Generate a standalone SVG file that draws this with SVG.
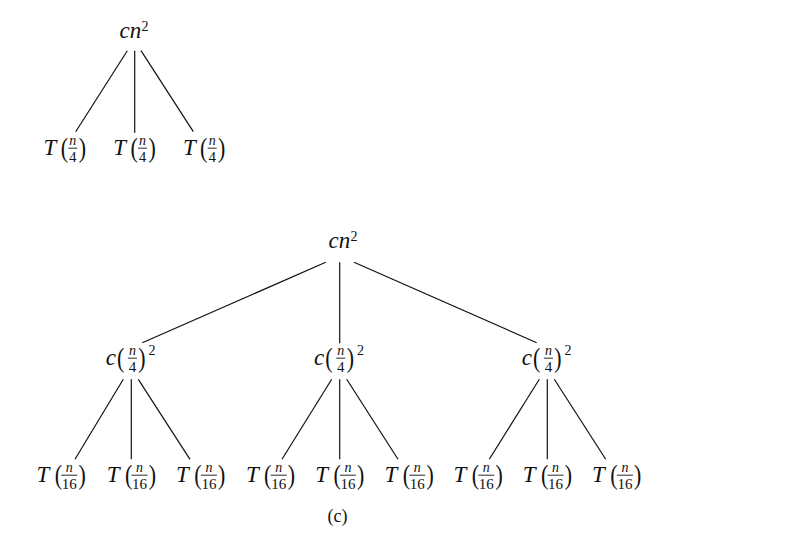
<svg xmlns="http://www.w3.org/2000/svg" width="808" height="546" viewBox="0 0 808 546">
<style>
text { font-family: "Liberation Serif", "DejaVu Serif", serif; fill: #111; }
.m { font-style: italic; font-size: 23px; }
.p { font-size: 22px; }
.si { font-style: italic; font-size: 14px; text-anchor: middle; }
.s { font-size: 15px; text-anchor: middle; }
.sup { font-size: 14px; }
.bar { stroke: #111; stroke-width: 0.9; }
.e line { stroke: #111; stroke-width: 1.2; }
.cap { font-size: 18px; text-anchor: middle; }
</style>
<rect width="808" height="546" fill="#fff"/>
<g id="connectors" class="e">
  <line x1="127.3" y1="50.7" x2="75.7" y2="131.7"/>
  <line x1="134.7" y1="50.7" x2="134.7" y2="132.7"/>
  <line x1="141" y1="50.7" x2="193.3" y2="131.7"/>
  <line x1="325.7" y1="262.3" x2="142.3" y2="342.7"/>
  <line x1="339.7" y1="262.3" x2="339.7" y2="343.3"/>
  <line x1="354" y1="262.3" x2="536.7" y2="342.7"/>
  <line x1="123.3" y1="379.3" x2="75" y2="459.3"/>
  <line x1="131.3" y1="379.3" x2="131.3" y2="459.3"/>
  <line x1="138.3" y1="379.3" x2="190" y2="459.3"/>
  <line x1="331.7" y1="379.3" x2="282" y2="459.3"/>
  <line x1="339.7" y1="379.3" x2="339.7" y2="459.3"/>
  <line x1="346.7" y1="379.3" x2="398" y2="459.3"/>
  <line x1="539.3" y1="379.3" x2="489.3" y2="459.3"/>
  <line x1="547.3" y1="379.3" x2="547.3" y2="459.3"/>
  <line x1="554.3" y1="379.3" x2="605.7" y2="459.3"/>
</g>
<g id="a-root">
  <text class="m" x="119.5" y="38">cn</text><text class="sup" x="141.5" y="31">2</text>
</g>
<g id="a-c1" transform="translate(65,155)">
  <text class="m" x="-21.5" y="0">T</text><text class="p" transform="translate(-4.3,2) scale(1,1.2)">(</text>
  <text class="si" x="7.8" y="-10">n</text><line class="bar" x1="3.3" y1="-6.8" x2="12.3" y2="-6.8"/><text class="s" x="7.8" y="7">4</text>
  <text class="p" transform="translate(13.7,2) scale(1,1.2)">)</text>
</g>
<g id="a-c2" transform="translate(134.7,155)">
  <text class="m" x="-21.5" y="0">T</text><text class="p" transform="translate(-4.3,2) scale(1,1.2)">(</text>
  <text class="si" x="7.8" y="-10">n</text><line class="bar" x1="3.3" y1="-6.8" x2="12.3" y2="-6.8"/><text class="s" x="7.8" y="7">4</text>
  <text class="p" transform="translate(13.7,2) scale(1,1.2)">)</text>
</g>
<g id="a-c3" transform="translate(204.4,155)">
  <text class="m" x="-21.5" y="0">T</text><text class="p" transform="translate(-4.3,2) scale(1,1.2)">(</text>
  <text class="si" x="7.8" y="-10">n</text><line class="bar" x1="3.3" y1="-6.8" x2="12.3" y2="-6.8"/><text class="s" x="7.8" y="7">4</text>
  <text class="p" transform="translate(13.7,2) scale(1,1.2)">)</text>
</g>
<g id="c-root">
  <text class="m" x="328.5" y="248">cn</text><text class="sup" x="350.5" y="241">2</text>
</g>
<g id="c-m1" transform="translate(131.3,365)">
  <text class="m" x="-25.6" y="0">c</text><text class="p" transform="translate(-14.4,2) scale(1,1.2)">(</text>
  <text class="si" x="1.1" y="-10">n</text><line class="bar" x1="-3.4" y1="-6.8" x2="5.6" y2="-6.8"/><text class="s" x="1.1" y="7">4</text>
  <text class="p" transform="translate(7,2) scale(1,1.2)">)</text><text class="sup" x="17.3" y="-10">2</text>
</g>
<g id="c-m2" transform="translate(339.7,365)">
  <text class="m" x="-25.6" y="0">c</text><text class="p" transform="translate(-14.4,2) scale(1,1.2)">(</text>
  <text class="si" x="1.1" y="-10">n</text><line class="bar" x1="-3.4" y1="-6.8" x2="5.6" y2="-6.8"/><text class="s" x="1.1" y="7">4</text>
  <text class="p" transform="translate(7,2) scale(1,1.2)">)</text><text class="sup" x="17.3" y="-10">2</text>
</g>
<g id="c-m3" transform="translate(547.3,365)">
  <text class="m" x="-25.6" y="0">c</text><text class="p" transform="translate(-14.4,2) scale(1,1.2)">(</text>
  <text class="si" x="1.1" y="-10">n</text><line class="bar" x1="-3.4" y1="-6.8" x2="5.6" y2="-6.8"/><text class="s" x="1.1" y="7">4</text>
  <text class="p" transform="translate(7,2) scale(1,1.2)">)</text><text class="sup" x="17.3" y="-10">2</text>
</g>
<g id="c-l1" transform="translate(61,482)">
  <text class="m" x="-24.5" y="0">T</text><text class="p" transform="translate(-6.3,2) scale(1,1.2)">(</text>
  <text class="si" x="8.3" y="-10">n</text><line class="bar" x1="0.3" y1="-6.8" x2="16.3" y2="-6.8"/><text class="s" x="8.3" y="7">16</text>
  <text class="p" transform="translate(17.4,2) scale(1,1.2)">)</text>
</g>
<g id="c-l2" transform="translate(131.3,482)">
  <text class="m" x="-24.5" y="0">T</text><text class="p" transform="translate(-6.3,2) scale(1,1.2)">(</text>
  <text class="si" x="8.3" y="-10">n</text><line class="bar" x1="0.3" y1="-6.8" x2="16.3" y2="-6.8"/><text class="s" x="8.3" y="7">16</text>
  <text class="p" transform="translate(17.4,2) scale(1,1.2)">)</text>
</g>
<g id="c-l3" transform="translate(200.6,482)">
  <text class="m" x="-24.5" y="0">T</text><text class="p" transform="translate(-6.3,2) scale(1,1.2)">(</text>
  <text class="si" x="8.3" y="-10">n</text><line class="bar" x1="0.3" y1="-6.8" x2="16.3" y2="-6.8"/><text class="s" x="8.3" y="7">16</text>
  <text class="p" transform="translate(17.4,2) scale(1,1.2)">)</text>
</g>
<g id="c-l4" transform="translate(270.4,482)">
  <text class="m" x="-24.5" y="0">T</text><text class="p" transform="translate(-6.3,2) scale(1,1.2)">(</text>
  <text class="si" x="8.3" y="-10">n</text><line class="bar" x1="0.3" y1="-6.8" x2="16.3" y2="-6.8"/><text class="s" x="8.3" y="7">16</text>
  <text class="p" transform="translate(17.4,2) scale(1,1.2)">)</text>
</g>
<g id="c-l5" transform="translate(339.7,482)">
  <text class="m" x="-24.5" y="0">T</text><text class="p" transform="translate(-6.3,2) scale(1,1.2)">(</text>
  <text class="si" x="8.3" y="-10">n</text><line class="bar" x1="0.3" y1="-6.8" x2="16.3" y2="-6.8"/><text class="s" x="8.3" y="7">16</text>
  <text class="p" transform="translate(17.4,2) scale(1,1.2)">)</text>
</g>
<g id="c-l6" transform="translate(409,482)">
  <text class="m" x="-24.5" y="0">T</text><text class="p" transform="translate(-6.3,2) scale(1,1.2)">(</text>
  <text class="si" x="8.3" y="-10">n</text><line class="bar" x1="0.3" y1="-6.8" x2="16.3" y2="-6.8"/><text class="s" x="8.3" y="7">16</text>
  <text class="p" transform="translate(17.4,2) scale(1,1.2)">)</text>
</g>
<g id="c-l7" transform="translate(478,482)">
  <text class="m" x="-24.5" y="0">T</text><text class="p" transform="translate(-6.3,2) scale(1,1.2)">(</text>
  <text class="si" x="8.3" y="-10">n</text><line class="bar" x1="0.3" y1="-6.8" x2="16.3" y2="-6.8"/><text class="s" x="8.3" y="7">16</text>
  <text class="p" transform="translate(17.4,2) scale(1,1.2)">)</text>
</g>
<g id="c-l8" transform="translate(547.3,482)">
  <text class="m" x="-24.5" y="0">T</text><text class="p" transform="translate(-6.3,2) scale(1,1.2)">(</text>
  <text class="si" x="8.3" y="-10">n</text><line class="bar" x1="0.3" y1="-6.8" x2="16.3" y2="-6.8"/><text class="s" x="8.3" y="7">16</text>
  <text class="p" transform="translate(17.4,2) scale(1,1.2)">)</text>
</g>
<g id="c-l9" transform="translate(616.6,482)">
  <text class="m" x="-24.5" y="0">T</text><text class="p" transform="translate(-6.3,2) scale(1,1.2)">(</text>
  <text class="si" x="8.3" y="-10">n</text><line class="bar" x1="0.3" y1="-6.8" x2="16.3" y2="-6.8"/><text class="s" x="8.3" y="7">16</text>
  <text class="p" transform="translate(17.4,2) scale(1,1.2)">)</text>
</g>
<text id="caption" class="cap" x="337.5" y="522">(c)</text>
</svg>
